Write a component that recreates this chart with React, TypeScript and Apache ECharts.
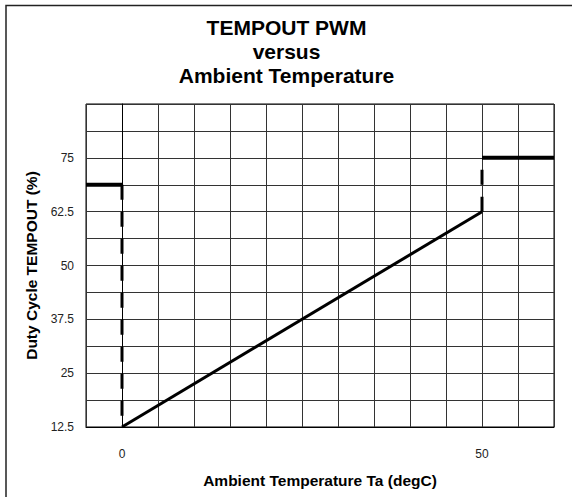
import React, { useEffect, useRef } from "react";
import * as echarts from "echarts";

const titleLines = ["TEMPOUT PWM", "versus", "Ambient Temperature"];
const xAxisTitle = "Ambient Temperature Ta (degC)";
const yAxisTitle = "Duty Cycle TEMPOUT (%)";

const xLabelValues = [0, 50];
const yLabelValues = [12.5, 25, 37.5, 50, 62.5, 75];

const holdLow: [number, number][] = [[-5, 68.75], [0, 68.75]];
const dropLow: [number, number][] = [[0, 68.75], [0, 12.5]];
const ramp: [number, number][] = [[0, 12.5], [50, 62.5]];
const riseHigh: [number, number][] = [[50, 62.5], [50, 75]];
const holdHigh: [number, number][] = [[50, 75], [60, 75]];

const FONT = "'Liberation Sans', Arial, sans-serif";

export default function App() {
  const ref = useRef<HTMLDivElement>(null);
  useEffect(() => {
    document.body.style.margin = "0";
    if (!ref.current) return;
    const chart = echarts.init(ref.current, undefined, { renderer: "svg" });
    const lineSeries = (data: [number, number][], width: number, dashed: boolean) => ({
      type: "line",
      data,
      showSymbol: false,
      symbol: "none",
      silent: true,
      lineStyle: {
        color: "#000",
        width,
        type: dashed ? [15, 12] : "solid",
        cap: "butt",
      },
    });
    chart.setOption({
      animation: false,
      backgroundColor: "#fff",
      title: {
        text: titleLines.join("\n"),
        left: "center",
        top: 10,
        textStyle: {
          fontFamily: FONT,
          fontSize: 21,
          fontWeight: "bold",
          lineHeight: 24,
          color: "#000",
        },
      },
      grid: { left: 86, top: 104, right: 19, bottom: 71, containLabel: false },
      xAxis: {
        type: "value",
        min: -5,
        max: 60,
        interval: 5,
        name: xAxisTitle,
        nameLocation: "middle",
        nameGap: 45,
        nameTextStyle: { fontFamily: FONT, fontSize: 15.5, fontWeight: "bold", color: "#000" },
        axisLine: { show: true, lineStyle: { color: "#000", width: 1 } },
        axisTick: { show: false },
        axisLabel: {
          fontFamily: FONT,
          fontSize: 12,
          color: "#222",
          margin: 21,
          formatter: (v: number) => (xLabelValues.includes(v) ? String(v) : ""),
        },
        splitLine: { show: true, lineStyle: { color: "#333", width: 1 } },
      },
      yAxis: {
        type: "value",
        min: 12.5,
        max: 87.5,
        interval: 6.25,
        name: yAxisTitle,
        nameLocation: "middle",
        nameGap: 46,
        nameRotate: 90,
        nameTextStyle: { fontFamily: FONT, fontSize: 15.5, fontWeight: "bold", color: "#000" },
        axisLine: { show: true, lineStyle: { color: "#000", width: 1 } },
        axisTick: { show: false },
        axisLabel: {
          fontFamily: FONT,
          fontSize: 12,
          color: "#222",
          margin: 12,
          formatter: (v: number) => (yLabelValues.includes(v) ? String(v) : ""),
        },
        splitLine: { show: true, lineStyle: { color: "#333", width: 1 } },
      },
      graphic: [
        {
          type: "rect",
          shape: { x: 86, y: 104, width: 468, height: 323 },
          style: { fill: "none", stroke: "#000", lineWidth: 1 },
          silent: true,
        },
        {
          type: "polyline",
          shape: { points: [[6, 497], [6, 5.5], [572, 5.5]] },
          style: { fill: "none", stroke: "#222", lineWidth: 1.5 },
          silent: true,
        },
      ],
      series: [
        lineSeries(holdLow, 4, false),
        lineSeries(dropLow, 3, true),
        lineSeries(ramp, 3, false),
        lineSeries(riseHigh, 3, true),
        lineSeries(holdHigh, 4, false),
      ],
    });
    return () => chart.dispose();
  }, []);
  return <div ref={ref} style={{ width: 573, height: 498 }} />;
}
